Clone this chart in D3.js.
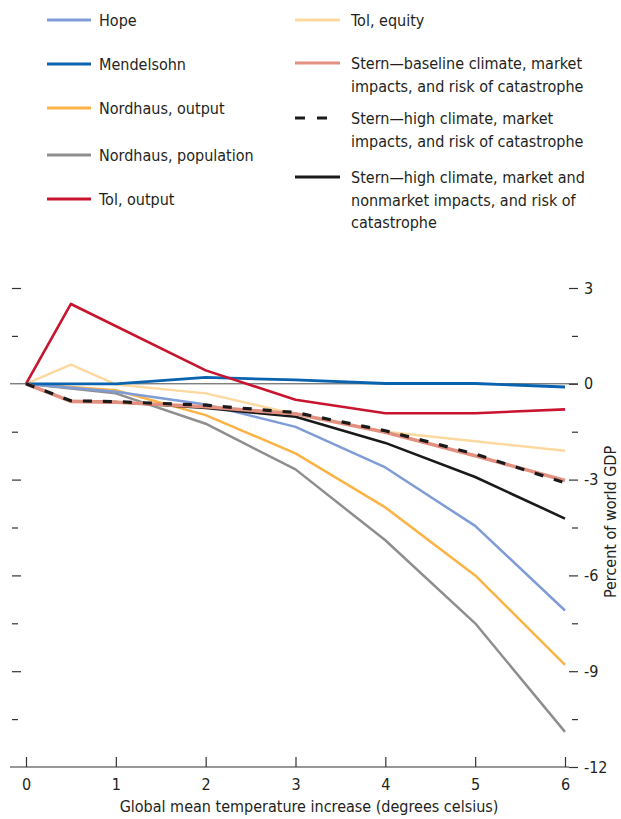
<!DOCTYPE html>
<html lang="en">
<head>
<meta charset="UTF-8">
<title>damage estimates</title>
<script src="https://d3js.org/d3.v7.min.js"></script>
<style>
  body { margin: 0; background: #fff; }
  svg text { font-family: "Liberation Sans Narrow", "DejaVu Sans Condensed", "Roboto", sans-serif; fill: #231f20; }
</style>
</head>
<body>
<svg width="621" height="819"></svg>
<script>
// temperature points (degrees celsius); null = no vertex for that series
const temps      = [0, 0.5, 1, 2, 3, 4, 5, 6];
const hope       = [0, null, -0.25, -0.65, -1.35, -2.62, -4.45, -7.1];
const mendelsohn = [0, null, 0, 0.2, 0.12, 0.01, 0.01, -0.1];
const nordOutput = [0, null, -0.2, -0.98, -2.18, -3.87, -6.0, -8.8];
const nordPop    = [0, null, -0.3, -1.25, -2.68, -4.9, -7.5, -10.9];
const tolOutput  = [0, 2.5, null, 0.42, -0.5, -0.92, -0.92, -0.8];
const tolEquity  = [0, 0.6, -0.02, -0.3, -0.95, -1.5, -1.8, -2.1];
const sternBase  = [0, -0.55, -0.58, -0.72, -0.94, -1.52, -2.25, -3.03];
const sternHigh  = [0, -0.53, -0.56, -0.67, -0.9, -1.47, -2.2, -3.1];
const sternNon   = [0, -0.55, -0.57, -0.76, -1.03, -1.85, -2.92, -4.22];

const xTicks = [0, 1, 2, 3, 4, 5, 6];
const yMajor = [3, 0, -3, -6, -9, -12];
const yMinor = [1.5, -1.5, -4.5, -7.5, -10.5];

const svg = d3.select('svg');

const x = d3.scaleLinear().domain([0, 6]).range([26, 565]);
const y = d3.scaleLinear().domain([-12, 3]).range([767, 288]);

// series table: drawn in this order
const series = [
  {name: 'Tol, equity', vals: tolEquity, color: '#fdd9a0', w: 2.5},
  {name: 'Nordhaus, population', vals: nordPop, color: '#8e8e8e', w: 2.5},
  {name: 'Nordhaus, output', vals: nordOutput, color: '#fbb345', w: 2.5},
  {name: 'Hope', vals: hope, color: '#7f9cd6', w: 2.5},
  {name: 'Mendelsohn', vals: mendelsohn, color: '#0a63ae', w: 2.8},
  {name: 'Tol, output', vals: tolOutput, color: '#c8142f', w: 2.6},
  {name: 'Stern—high climate, market and nonmarket impacts, and risk of catastrophe', vals: sternNon, color: '#1a1a1a', w: 2.6},
  {name: 'Stern—baseline climate, market impacts, and risk of catastrophe', vals: sternBase, color: '#e39080', w: 3.6},
  {name: 'Stern—high climate, market impacts, and risk of catastrophe', vals: sternHigh, color: '#1a1a1a', w: 3.2, dash: '9,11'}
];

// zero line
svg.append('line')
  .attr('x1', 10).attr('x2', 578)
  .attr('y1', y(0)).attr('y2', y(0))
  .attr('stroke', '#4a4a4a').attr('stroke-width', 1);

// left ticks (no labels)
const leftMajor = d3.axisRight(y).tickValues(yMajor.filter(v => v !== 0 && v !== -12)).tickSize(9).tickFormat('');
const leftMinor = d3.axisRight(y).tickValues(yMinor).tickSize(6).tickFormat('');
[leftMajor, leftMinor].forEach(ax => {
  const g = svg.append('g').attr('transform', 'translate(12,0)').call(ax);
  g.select('.domain').remove();
  g.selectAll('line').attr('stroke', '#333').attr('stroke-width', 1.2);
});

// right axis with labels
const rightMajor = d3.axisRight(y).tickValues(yMajor).tickSize(9).tickPadding(6).tickFormat(d => String(d));
const gr = svg.append('g').attr('transform', 'translate(569,0)').call(rightMajor);
gr.select('.domain').remove();
gr.selectAll('line').attr('stroke', '#333').attr('stroke-width', 1.2);
gr.selectAll('text').attr('font-size', 16).style('font-family', null).attr('fill', null);

const rightMinor = d3.axisRight(y).tickValues(yMinor).tickSize(6).tickFormat('');
const gm = svg.append('g').attr('transform', 'translate(572,0)').call(rightMinor);
gm.select('.domain').remove();
gm.selectAll('line').attr('stroke', '#333').attr('stroke-width', 1.2);

// bottom axis
svg.append('line')
  .attr('x1', 10).attr('x2', 569)
  .attr('y1', y(-12)).attr('y2', y(-12))
  .attr('stroke', '#333').attr('stroke-width', 1.2);
const xAxis = d3.axisBottom(x).tickValues(xTicks).tickSizeInner(-10).tickSizeOuter(0).tickPadding(12).tickFormat(d => String(d));
const gx = svg.append('g').attr('transform', 'translate(0,' + y(-12) + ')').call(xAxis);
gx.select('.domain').remove();
gx.selectAll('line').attr('stroke', '#333').attr('stroke-width', 1.2);
gx.selectAll('text').attr('font-size', 16).style('font-family', null).attr('fill', null);

svg.append('text')
  .attr('x', 309).attr('y', 812)
  .attr('text-anchor', 'middle').attr('font-size', 16)
  .text('Global mean temperature increase (degrees celsius)');

svg.append('text')
  .attr('transform', 'translate(616,522) rotate(-90)')
  .attr('text-anchor', 'middle').attr('font-size', 16)
  .text('Percent of world GDP');

// lines
const line = d3.line().x(d => x(d[0])).y(d => y(d[1]));
series.forEach(s => {
  const pts = temps.map((t, i) => [t, s.vals[i]]).filter(p => p[1] !== null);
  svg.append('path')
    .datum(pts)
    .attr('d', line)
    .attr('fill', 'none')
    .attr('stroke', s.color)
    .attr('stroke-width', s.w)
    .attr('stroke-linejoin', 'round')
    .attr('stroke-dasharray', s.dash || null);
});

// legend
const legendLeft = [
  {s: 'Hope', lines: ['Hope'], y: 20},
  {s: 'Mendelsohn', lines: ['Mendelsohn'], y: 64},
  {s: 'Nordhaus, output', lines: ['Nordhaus, output'], y: 108},
  {s: 'Nordhaus, population', lines: ['Nordhaus, population'], y: 155},
  {s: 'Tol, output', lines: ['Tol, output'], y: 199}
];
const legendRight = [
  {s: 'Tol, equity', lines: ['Tol, equity'], y: 20},
  {s: 'Stern—baseline climate, market impacts, and risk of catastrophe', lines: ['Stern—baseline climate, market', 'impacts, and risk of catastrophe'], y: 63},
  {s: 'Stern—high climate, market impacts, and risk of catastrophe', lines: ['Stern—high climate, market', 'impacts, and risk of catastrophe'], y: 118},
  {s: 'Stern—high climate, market and nonmarket impacts, and risk of catastrophe', lines: ['Stern—high climate, market and', 'nonmarket impacts, and risk of', 'catastrophe'], y: 177}
];

function drawLegend(items, x0, x1, tx) {
  items.forEach(it => {
    const s = series.find(d => d.name === it.s);
    svg.append('line')
      .attr('x1', x0).attr('x2', s.dash ? x0 + 32 : x1)
      .attr('y1', it.y).attr('y2', it.y)
      .attr('stroke', s.color)
      .attr('stroke-width', s.dash ? 3.2 : 3)
      .attr('stroke-dasharray', s.dash ? '10,12' : null);
    const t = svg.append('text').attr('x', tx).attr('y', it.y + 6).attr('font-size', 16);
    it.lines.forEach((l, i) => {
      t.append('tspan').attr('x', tx).attr('dy', i === 0 ? 0 : 22.5).text(l);
    });
  });
}
drawLegend(legendLeft, 47, 91, 99);
drawLegend(legendRight, 295, 340, 351);
</script>
</body>
</html>
